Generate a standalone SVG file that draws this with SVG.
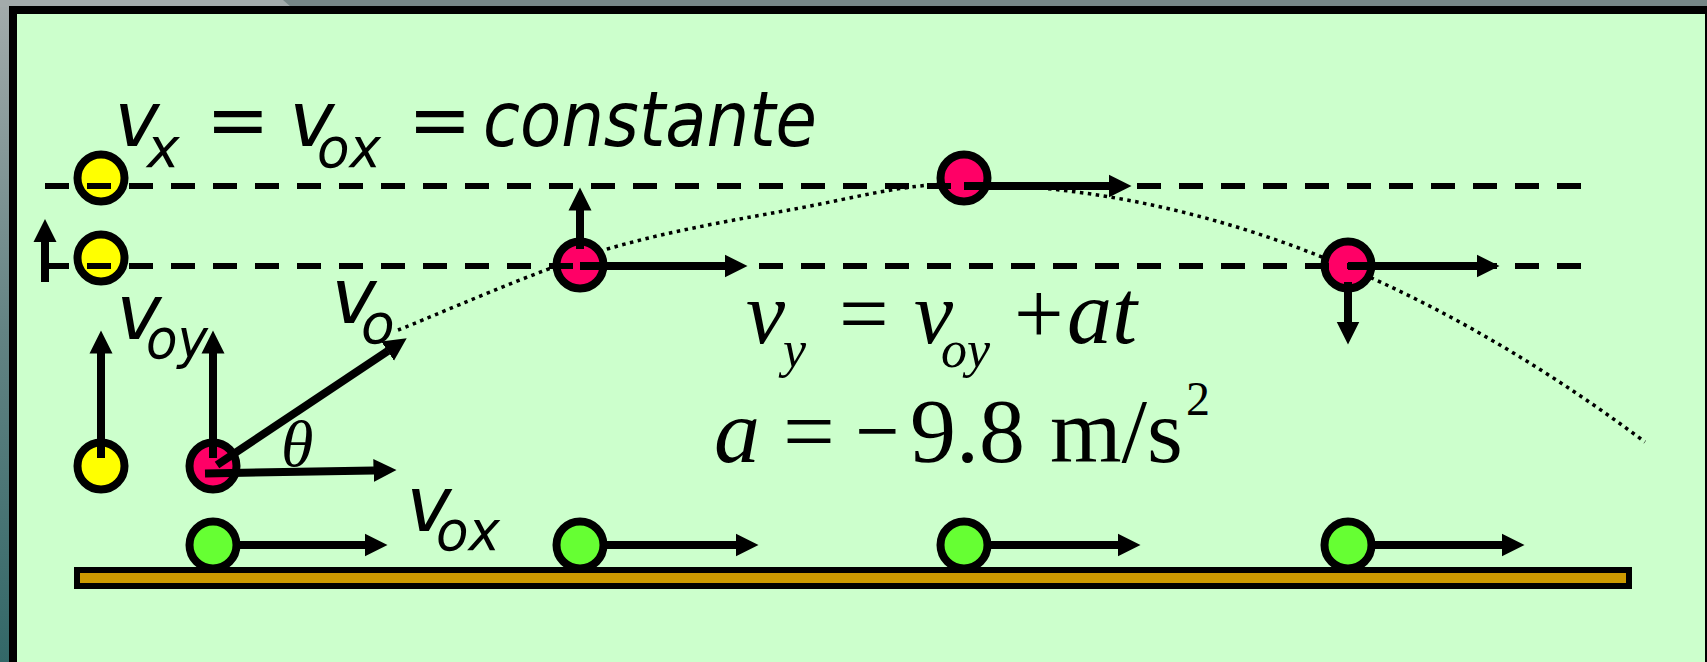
<svg xmlns="http://www.w3.org/2000/svg" width="1707" height="662" viewBox="0 0 1707 662">
<defs>
<linearGradient id="bg" x1="0" y1="0" x2="0" y2="1">
<stop offset="0" stop-color="#a3abab"/>
<stop offset="0.5" stop-color="#638383"/>
<stop offset="1" stop-color="#336868"/>
</linearGradient>
<marker id="ah" markerUnits="userSpaceOnUse" markerWidth="24" markerHeight="24" viewBox="0 -12 24 24" refX="0.5" refY="0" orient="auto">
<path d="M0,-11.5 L23,0 L0,11.5 z" fill="#000"/>
</marker>
<style>
.ball{stroke:#000;stroke-width:8}
.y{fill:#FFFF00}
.r{fill:#FF0066}
.g{fill:#66FF33}
.dash{stroke:#000;stroke-width:6;stroke-dasharray:24 18;fill:none}
.arr{stroke:#000;stroke-width:8;fill:none;marker-end:url(#ah)}
.traj{stroke:#000;stroke-width:3.5;stroke-dasharray:3.5 4.5;fill:none}
.s{font-family:"DejaVu Sans",Verdana,sans-serif;font-style:italic;fill:#000}
.t{font-family:"Liberation Serif","Times New Roman",serif;fill:#000}
.ti{font-family:"Liberation Serif","Times New Roman",serif;font-style:italic;fill:#000}
</style>
</defs>
<rect x="0" y="0" width="1707" height="662" fill="url(#bg)"/>
<rect x="0" y="0" width="1707" height="7" fill="#768686"/>
<polygon points="0,0 283,0 291,7 0,7" fill="#a3abab"/>
<rect id="frame" x="13" y="10" width="1696" height="700" fill="#CCFFCC" stroke="#000" stroke-width="8"/>
<rect id="ground" x="77" y="570" width="1552" height="16" fill="#CC9900" stroke="#000" stroke-width="6"/>
<path id="trajectory" class="traj" d="M398,330 C432,317 537,270 604,250 C671,230 741,219 800,208 C858,197 905,184 955,184 Q1300,184 1645,442"/>
<g id="balls">
<g id="yellow1"><circle class="ball y" cx="101" cy="178" r="23.5"/></g>
<g id="yellow2"><circle class="ball y" cx="101" cy="258" r="23.5"/></g>
<g id="yellow3"><circle class="ball y" cx="101" cy="466" r="23.5"/></g>
<g id="red0"><circle class="ball r" cx="213" cy="466" r="23.5"/></g>
<g id="red1"><circle class="ball r" cx="580" cy="265" r="23.5"/></g>
<g id="red2"><circle class="ball r" cx="964" cy="178" r="23.5"/></g>
<g id="red3"><circle class="ball r" cx="1348" cy="265" r="23.5"/></g>
<g id="green0"><circle class="ball g" cx="213" cy="545" r="23.5"/></g>
<g id="green1"><circle class="ball g" cx="580" cy="545" r="23.5"/></g>
<g id="green2"><circle class="ball g" cx="964" cy="545" r="23.5"/></g>
<g id="green3"><circle class="ball g" cx="1348" cy="545" r="23.5"/></g>
</g>
<g id="connectors">
<line class="dash" x1="45" y1="186" x2="1582" y2="186"/>
<line class="dash" x1="45" y1="266" x2="1582" y2="266"/>
<line class="arr" x1="45" y1="282" x2="45" y2="241.5"/>
<line class="arr" x1="101" y1="458" x2="101" y2="353"/>
<line class="arr" x1="213" y1="458" x2="213" y2="353"/>
<line class="arr" x1="217" y1="465" x2="388" y2="350.8" stroke-width="9"/>
<line class="arr" x1="205" y1="473.5" x2="374" y2="470.4"/>
<line class="arr" x1="238" y1="545" x2="365" y2="545"/>
<line class="arr" x1="605" y1="545" x2="736" y2="545"/>
<line class="arr" x1="989" y1="545" x2="1118" y2="545"/>
<line class="arr" x1="1373" y1="545" x2="1502" y2="545"/>
<line class="arr" x1="580" y1="249" x2="580" y2="210"/>
<line class="arr" x1="580" y1="266" x2="725" y2="266"/>
<line class="arr" x1="964" y1="186" x2="1109" y2="186"/>
<line class="arr" x1="1348" y1="266" x2="1477" y2="266"/>
<line class="arr" x1="1348" y1="282" x2="1348" y2="322"/>
</g>
<g id="label-vx">
<text class="s" x="114.5" y="146" font-size="76">v</text>
<text class="s" x="147" y="167" font-size="55">x</text>
<text class="s" x="206" y="146" font-size="76">=</text>
<text class="s" x="289.5" y="146" font-size="76">v</text>
<text class="s" x="317" y="167" font-size="55" textLength="64" lengthAdjust="spacingAndGlyphs">ox</text>
<text class="s" x="408" y="146" font-size="76">=</text>
<text class="s" x="483" y="146" font-size="76" textLength="334" lengthAdjust="spacingAndGlyphs">constante</text>
</g>
<g id="label-voy">
<text class="s" x="116.5" y="339" font-size="76">v</text>
<text class="s" x="146" y="358" font-size="55" textLength="62" lengthAdjust="spacingAndGlyphs">oy</text>
</g>
<g id="label-vo">
<text class="s" x="331.5" y="323" font-size="76">v</text>
<text class="s" x="361" y="343" font-size="55">o</text>
</g>
<g id="label-theta">
<text class="ti" x="281" y="466" font-size="66">θ</text>
</g>
<g id="label-vox">
<text class="s" x="406.5" y="531" font-size="76">v</text>
<text class="s" x="436" y="550" font-size="55" textLength="64" lengthAdjust="spacingAndGlyphs">ox</text>
</g>
<g id="eq-vy">
<text class="ti" x="746" y="343" font-size="88">v</text>
<text class="ti" x="783" y="367" font-size="52">y</text>
<text class="t" x="839" y="343" font-size="88">=</text>
<text class="ti" x="914" y="343" font-size="88">v</text>
<text class="ti" x="941" y="367" font-size="52">oy</text>
<text class="t" x="1014" y="343" font-size="88">+</text>
<text class="ti" x="1067" y="343" font-size="90">at</text>
</g>
<g id="eq-a">
<text class="ti" x="714" y="462" font-size="92">a</text>
<text class="t" x="783" y="462" font-size="92">=</text>
<text class="t" x="855.5" y="462" font-size="92" textLength="44" lengthAdjust="spacingAndGlyphs">−</text>
<text class="t" x="910" y="462" font-size="92">9.8</text>
<text class="t" x="1050" y="462" font-size="92">m/s</text>
<text class="t" x="1186" y="415" font-size="48">2</text>
</g>
</svg>
